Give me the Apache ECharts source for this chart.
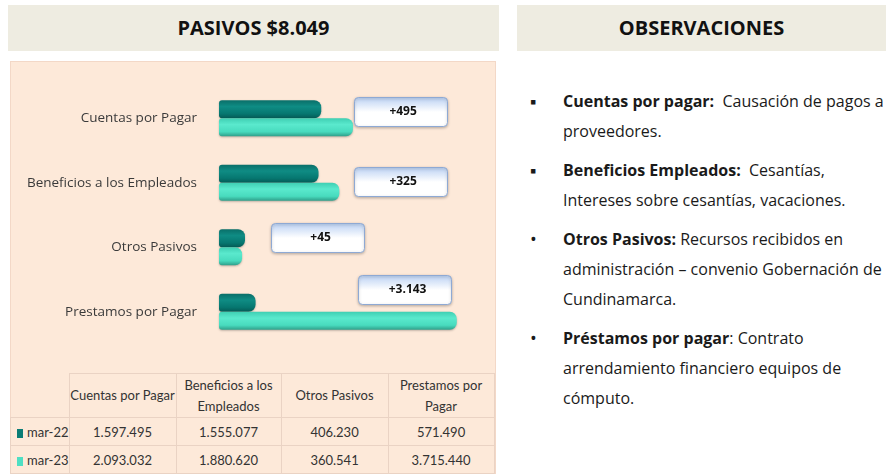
<!DOCTYPE html>
<html>
<head>
<meta charset="utf-8">
<title>Pasivos</title>
<script src="https://cdn.jsdelivr.net/npm/echarts@6/dist/echarts.min.js"></script>
<style>
  body { margin: 0; width: 888px; height: 474px; background: #fff; position: relative; overflow: hidden; font-family: "Open Sans", sans-serif; }
  .head { position: absolute; top: 5px; height: 46px; line-height: 46px; background: #eeece1; text-align: center; font-weight: 700; font-size: 20px; color: #111; }
  #panel { position: absolute; left: 10px; top: 61px; width: 486px; height: 413px; background: #fde9d9; border: 1px solid #f3d8c7; box-sizing: border-box; }
  #chart { position: absolute; left: 10px; top: 61px; width: 486px; height: 302px; }
  #tabla { position: absolute; left: 10px; top: 373px; border-collapse: collapse; table-layout: fixed; font-family: Lato, sans-serif; font-size: 13px; color: #333; }
  #tabla td { border: 1px solid #ead3c4; text-align: center; padding: 0; white-space: nowrap; }
  #tabla tr.h td { height: 43px; line-height: 21px; }
  #tabla tr.d td { height: 27px; }
  #tabla td.key { text-align: left; padding-left: 6px; }
  #tabla td.corner { border-top: none; border-left: none; }
  .sq { display: inline-block; width: 6px; height: 9px; margin-right: 4px; vertical-align: -1px; }
  #obs { position: absolute; left: 530px; top: 86px; width: 358px; font-size: 16px; color: #1a1a1a; }
  #obs .p { position: relative; padding-left: 33px; line-height: 30px; margin-bottom: 9px; white-space: nowrap; }
  #obs .b { position: absolute; left: 0; top: 0; font-size: 18px; }
</style>
</head>
<body>
<div class="head" style="left:8px;width:491px">PASIVOS $8.049</div>
<div class="head" style="left:517px;width:369px">OBSERVACIONES</div>
<div id="panel"></div>
<div id="chart"></div>
<table id="tabla"></table>
<div id="obs"></div>

<script>
// datos (pesos)
var categorias = ['Cuentas por Pagar', 'Beneficios a los Empleados', 'Otros Pasivos', 'Prestamos por Pagar'];
var cabeceraTabla = ['Cuentas por Pagar', 'Beneficios a los<br>Empleados', 'Otros Pasivos', 'Prestamos por<br>Pagar'];
var periodos = ['mar-22', 'mar-23'];
var mar22 = [1597495, 1555077, 406230, 571490];
var mar23 = [2093032, 1880620, 360541, 3715440];
var variaciones = ['+495', '+325', '+45', '+3.143'];

// donde van los globos de variacion (valor eje x, desplazamiento vertical px)
var globoX = [2830000, 2830000, 1540000, 2900000];
var globoDy = [-7, -1, -10, -22];

var colores = ['#0b7d76', '#4fdfc3'];

var observaciones = [
  ['&#9642;', 'Cuentas por pagar:', '&nbsp; Causación de pagos a', 'proveedores.'],
  ['&#9642;', 'Beneficios Empleados:', '&nbsp; Cesantías,', 'Intereses sobre cesantías, vacaciones.'],
  ['&bull;', 'Otros Pasivos:', ' Recursos recibidos en', 'administración – convenio Gobernación de', 'Cundinamarca.'],
  ['&bull;', 'Préstamos por pagar', ': Contrato', 'arrendamiento financiero equipos de', 'cómputo.']
];

function fmt(n) {
  return String(n).replace(/\B(?=(\d{3})+(?!\d))/g, '.');
}

// tabla de datos
var html = '<tr class="h"><td class="corner" style="width:54px"></td>';
cabeceraTabla.forEach(function (c, i) {
  html += '<td style="width:' + [106, 104, 106, 105][i] + 'px">' + c + '</td>';
});
html += '</tr>';
[mar22, mar23].forEach(function (serie, s) {
  html += '<tr class="d"><td class="key"><span class="sq" style="background:' + colores[s] + '"></span>' + periodos[s] + '</td>';
  serie.forEach(function (v) { html += '<td>' + fmt(v) + '</td>'; });
  html += '</tr>';
});
document.getElementById('tabla').innerHTML = html;

// observaciones
var obs = '';
observaciones.forEach(function (o) {
  obs += '<div class="p"><span class="b">' + o[0] + '</span><b>' + o[1] + '</b>' + o[2];
  for (var k = 3; k < o.length; k++) obs += '<br>' + o[k];
  obs += '</div>';
});
document.getElementById('obs').innerHTML = obs;

// grafico
var myChart = echarts.init(document.getElementById('chart'));

function cilindro(c1, c2, c3, c4) {
  return new echarts.graphic.LinearGradient(0, 0, 0, 1, [
    { offset: 0, color: c1 },
    { offset: 0.35, color: c2 },
    { offset: 0.75, color: c3 },
    { offset: 1, color: c4 }
  ]);
}

var option = {
  animation: false,
  backgroundColor: 'transparent',
  grid: { left: 209, top: 25, width: 256, height: 258 },
  xAxis: { type: 'value', min: 0, max: 4000000, show: false },
  yAxis: {
    type: 'category',
    data: categorias,
    inverse: true,
    axisLine: { show: false },
    axisTick: { show: false },
    axisLabel: { margin: 22, color: '#3a3a3a', fontSize: 13.5, fontFamily: 'Open Sans' }
  },
  series: [
    {
      name: periodos[0],
      type: 'bar',
      data: mar22,
      barWidth: 18,
      barGap: '0%',
      itemStyle: {
        color: cilindro('#0a6f69', '#0f8c84', '#067770', '#045a55'),
        borderRadius: [3, 7, 7, 3],
        shadowColor: 'rgba(0,0,0,0.25)', shadowBlur: 2, shadowOffsetY: 1
      }
    },
    {
      name: periodos[1],
      type: 'bar',
      data: mar23,
      barWidth: 18,
      barGap: '0%',
      itemStyle: {
        color: cilindro('#3fcfb3', '#5ae9cd', '#48dbbe', '#2f9f8a'),
        borderRadius: [3, 7, 7, 3],
        shadowColor: 'rgba(0,0,0,0.25)', shadowBlur: 2, shadowOffsetY: 1
      }
    },
    {
      name: 'variacion',
      type: 'custom',
      silent: true,
      z: 10,
      encode: { x: 0, y: 1 },
      data: categorias.map(function (c, i) { return [globoX[i], i]; }),
      renderItem: function (params, api) {
        var i = params.dataIndex;
        var p = api.coord([api.value(0), api.value(1)]);
        var w = 93, h = 29;
        var cy = p[1] + globoDy[i];
        return {
          type: 'group',
          children: [
            {
              type: 'rect',
              shape: { x: Math.round(p[0] - w / 2) + 0.5, y: Math.round(cy - h / 2) + 0.5, width: w, height: h, r: 4 },
              style: {
                fill: new echarts.graphic.LinearGradient(0, 0, 0, 1, [
                  { offset: 0, color: '#b9d0f3' },
                  { offset: 0.5, color: '#ffffff' },
                  { offset: 1, color: '#ffffff' }
                ]),
                stroke: '#8ea9d4',
                lineWidth: 1,
                shadowColor: 'rgba(0,0,0,0.25)',
                shadowBlur: 3,
                shadowOffsetY: 1
              }
            },
            {
              type: 'text',
              style: {
                text: variaciones[i],
                x: p[0] + 3,
                y: cy,
                align: 'center',
                verticalAlign: 'middle',
                font: 'bold 12px "Open Sans"',
                fill: '#111'
              }
            }
          ]
        };
      }
    }
  ]
};

myChart.setOption(option);
</script>
</body>
</html>
